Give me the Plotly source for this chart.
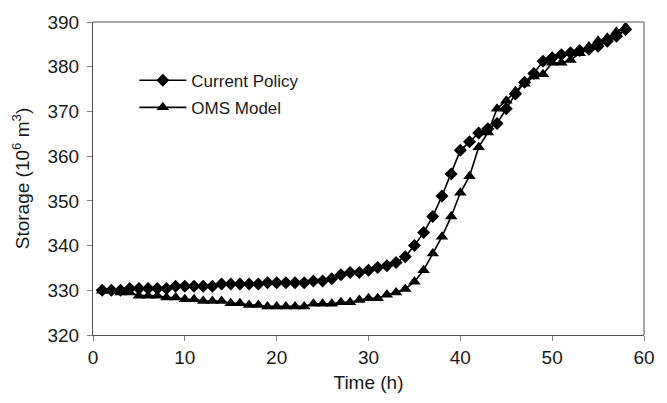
import plotly.graph_objects as go

# Hourly reservoir storage (10^6 m^3) under two operating rules
hours = list(range(1, 59))

current_policy = [
    330.0, 330.0, 330.0, 330.4, 330.4, 330.4, 330.4, 330.4, 330.9, 330.9,
    330.9, 330.9, 330.9, 331.4, 331.4, 331.4, 331.4, 331.4, 331.7, 331.7,
    331.7, 331.7, 331.7, 332.1, 332.1, 332.6, 333.5, 334.0, 334.0, 334.5,
    335.1, 335.5, 336.2, 337.5, 340.0, 342.9, 346.5, 351.1, 356.0, 361.3,
    363.2, 365.2, 366.1, 367.3, 370.6, 373.9, 376.5, 378.5, 381.2, 382.0,
    382.7, 383.1, 383.6, 383.9, 384.6, 385.7, 386.8, 388.3,
]

oms_model = [
    329.9, 329.9, 329.5, 329.5, 328.8, 328.8, 328.8, 328.4, 328.4, 328.0,
    328.0, 327.6, 327.6, 327.6, 327.1, 327.1, 326.7, 326.7, 326.4, 326.4,
    326.4, 326.4, 326.4, 327.0, 327.0, 327.0, 327.3, 327.3, 327.8, 328.2,
    328.2, 329.0, 329.5, 330.3, 331.9, 334.5, 338.2, 342.0, 346.5, 351.8,
    355.5, 362.0, 365.3, 370.6, 372.4, 374.5, 376.2, 377.8, 378.3, 380.9,
    380.9, 381.5, 383.0, 384.5, 385.8, 386.5, 387.8, 388.9,
]

series_names = ["Current Policy", "OMS Model"]
x_ticks = [0, 10, 20, 30, 40, 50, 60]
y_ticks = [320, 330, 340, 350, 360, 370, 380, 390]

FONT = "Arial, Liberation Sans, sans-serif"
TEXT = "#1a1a1a"

fig = go.Figure()
fig.add_trace(go.Scatter(
    x=hours, y=current_policy, name=series_names[0], mode="lines+markers",
    legendgroup="cp",
    line=dict(color="black", width=1.6),
    marker=dict(symbol="diamond", size=10, color="black"),
))
fig.add_trace(go.Scatter(
    x=hours, y=oms_model, name=series_names[1], mode="lines+markers",
    legendgroup="oms",
    line=dict(color="black", width=1.6),
    marker=dict(symbol="triangle-up", size=11, color="black"),
))

axis_common = dict(
    showgrid=False, zeroline=False, showline=True, linecolor="#505050",
    linewidth=1, ticks="outside", ticklen=5, tickcolor="#808080",
    tickfont=dict(family=FONT, size=19, color=TEXT),
)

fig.update_xaxes(
    range=[0, 60], tickvals=x_ticks, ticktext=[str(v) for v in x_ticks],
    title=dict(text="Time (h)", font=dict(family=FONT, size=19, color=TEXT),
               standoff=8),
    **axis_common,
)
fig.update_yaxes(
    range=[320, 390], tickvals=y_ticks, ticktext=[str(v) for v in y_ticks],
    ticklabelstandoff=4,
    title=dict(text="Storage (10<sup>6</sup> m<sup>3</sup>)",
               font=dict(family=FONT, size=19, color=TEXT), standoff=12),
    **axis_common,
)

# Light frame on the top and right edges of the plot area
fig.add_shape(type="line", xref="paper", yref="paper", x0=0, x1=1, y0=1, y1=1,
              line=dict(color="#a6a6a6", width=2))
fig.add_shape(type="line", xref="paper", yref="paper", x0=1, x1=1, y0=0, y1=1,
              line=dict(color="#a6a6a6", width=2))

fig.update_layout(
    width=667, height=403,
    margin=dict(l=93, r=12, t=18, b=68),
    paper_bgcolor="white", plot_bgcolor="white",
    showlegend=True,
    legend=dict(
        x=0.075, y=0.87, xanchor="left", yanchor="top",
        bgcolor="rgba(0,0,0,0)", itemwidth=47, tracegroupgap=2,
        font=dict(family=FONT, size=17, color=TEXT),
    ),
)

fig.write_html("out.html")
